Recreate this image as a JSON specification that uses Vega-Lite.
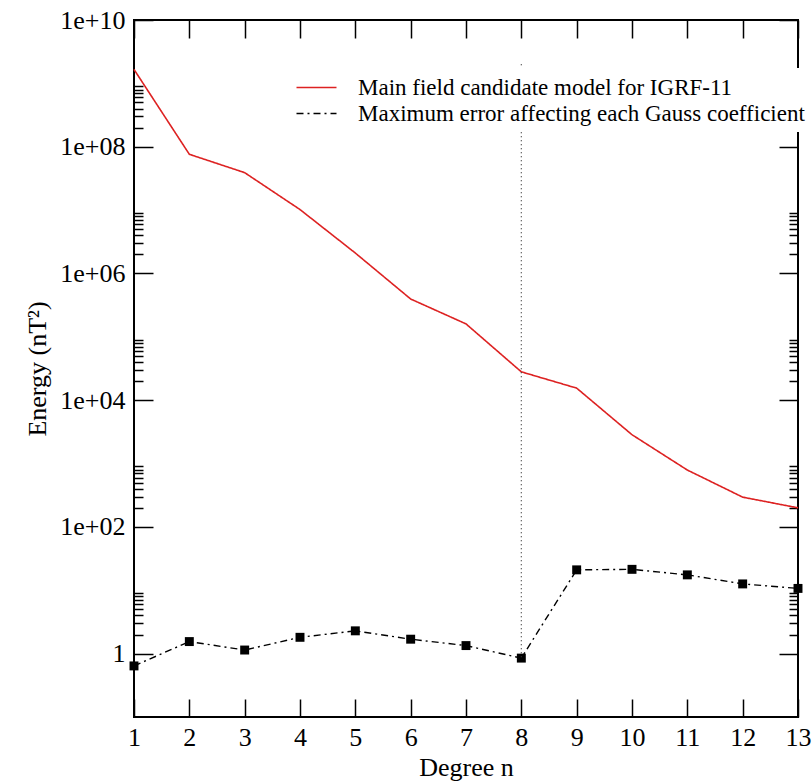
{
  "$schema": "https://vega.github.io/schema/vega-lite/v6.json",
  "width": 664,
  "height": 697,
  "autosize": "none",
  "padding": {"left": 134, "top": 20, "right": 14, "bottom": 65},
  "background": "white",
  "config": {
    "view": {"stroke": "black", "strokeWidth": 2},
    "font": "Liberation Serif",
    "axis": {
      "grid": false,
      "domain": false,
      "labelFont": "Liberation Serif",
      "titleFont": "Liberation Serif",
      "labelFontSize": 26,
      "titleFontSize": 26,
      "labelColor": "black",
      "titleColor": "black",
      "titleFontWeight": "normal",
      "tickColor": "black",
      "tickWidth": 1.5
    },
    "legend": {
      "labelFont": "Liberation Serif",
      "labelFontSize": 23,
      "labelColor": "black",
      "labelLimit": 0
    }
  },
  "datasets": {
    "energy": [
      {"n": 1, "energy": 1660000000, "series": "Main field candidate model for IGRF-11"},
      {"n": 2, "energy": 76000000, "series": "Main field candidate model for IGRF-11"},
      {"n": 3, "energy": 39000000, "series": "Main field candidate model for IGRF-11"},
      {"n": 4, "energy": 10200000, "series": "Main field candidate model for IGRF-11"},
      {"n": 5, "energy": 2100000, "series": "Main field candidate model for IGRF-11"},
      {"n": 6, "energy": 395000, "series": "Main field candidate model for IGRF-11"},
      {"n": 7, "energy": 160000, "series": "Main field candidate model for IGRF-11"},
      {"n": 8, "energy": 28000, "series": "Main field candidate model for IGRF-11"},
      {"n": 9, "energy": 15500, "series": "Main field candidate model for IGRF-11"},
      {"n": 10, "energy": 2850, "series": "Main field candidate model for IGRF-11"},
      {"n": 11, "energy": 790, "series": "Main field candidate model for IGRF-11"},
      {"n": 12, "energy": 295, "series": "Main field candidate model for IGRF-11"},
      {"n": 13, "energy": 200, "series": "Main field candidate model for IGRF-11"},
      {"n": 1, "energy": 0.64, "series": "Maximum error affecting each Gauss coefficient"},
      {"n": 2, "energy": 1.55, "series": "Maximum error affecting each Gauss coefficient"},
      {"n": 3, "energy": 1.14, "series": "Maximum error affecting each Gauss coefficient"},
      {"n": 4, "energy": 1.81, "series": "Maximum error affecting each Gauss coefficient"},
      {"n": 5, "energy": 2.29, "series": "Maximum error affecting each Gauss coefficient"},
      {"n": 6, "energy": 1.69, "series": "Maximum error affecting each Gauss coefficient"},
      {"n": 7, "energy": 1.34, "series": "Maximum error affecting each Gauss coefficient"},
      {"n": 8, "energy": 0.85, "series": "Maximum error affecting each Gauss coefficient"},
      {"n": 9, "energy": 21, "series": "Maximum error affecting each Gauss coefficient"},
      {"n": 10, "energy": 21.4, "series": "Maximum error affecting each Gauss coefficient"},
      {"n": 11, "energy": 17.5, "series": "Maximum error affecting each Gauss coefficient"},
      {"n": 12, "energy": 12.6, "series": "Maximum error affecting each Gauss coefficient"},
      {"n": 13, "energy": 10.7, "series": "Maximum error affecting each Gauss coefficient"}
    ],
    "marker": [
      {"n": 8, "top": 2000000000, "bottom": 0.85}
    ]
  },
  "layer": [
    {
      "data": {"name": "energy"},
      "transform": [{"filter": "datum.series == 'Main field candidate model for IGRF-11'"}],
      "mark": {"type": "line", "strokeWidth": 1.6},
      "encoding": {
        "x": {
          "field": "n", "type": "quantitative",
          "scale": {"domain": [1, 13], "nice": false, "zero": false},
          "axis": {
            "orient": "bottom",
            "values": [1,2,3,4,5,6,7,8,9,10,11,12,13],
            "tickSize": -18,
            "labelPadding": 25,
            "title": "Degree n",
            "titlePadding": 4,
            "labelFlush": false
          }
        },
        "y": {
          "field": "energy", "type": "quantitative",
          "scale": {"type": "log", "domain": [0.1, 10000000000], "nice": false},
          "axis": {
            "orient": "left",
            "values": [1, 100, 10000, 1000000, 100000000, 10000000000],
            "tickSize": -19,
            "labelPadding": 28,
            "labelExpr": "datum.value == 1 ? '1' : '1e+' + format(round(log(datum.value)/LN10), '02d')",
            "title": "Energy (nT²)",
            "titlePadding": 9,
            "labelFlush": false
          }
        },
        "color": {
          "field": "series", "type": "nominal",
          "scale": {
            "domain": ["Main field candidate model for IGRF-11", "Maximum error affecting each Gauss coefficient"],
            "range": ["#dd2222", "black"]
          },
          "legend": {
            "title": null,
            "orient": "none",
            "legendX": 163,
            "legendY": 48,
            "fillColor": "white",
            "padding": 6,
            "symbolType": "M-1.6,0H1.6",
            "symbolSize": 625,
            "symbolStrokeWidth": 1.6,
            "labelOffset": 28,
            "rowPadding": 0
          }
        },
        "strokeDash": {
          "field": "series", "type": "nominal",
          "scale": {
            "domain": ["Main field candidate model for IGRF-11", "Maximum error affecting each Gauss coefficient"],
            "range": [[1, 0], [7, 4, 2, 4]]
          },
          "legend": null
        }
      }
    },
    {
      "data": {"name": "energy"},
      "transform": [{"filter": "datum.series == 'Maximum error affecting each Gauss coefficient'"}],
      "mark": {"type": "line", "strokeWidth": 1.4},
      "encoding": {
        "x": {
          "field": "n", "type": "quantitative",
          "axis": {
            "orient": "top",
            "values": [1,2,3,4,5,6,7,8,9,10,11,12,13],
            "tickSize": -18,
            "labels": false,
            "title": null
          }
        },
        "y": {
          "field": "energy", "type": "quantitative",
          "axis": {
            "orient": "right",
            "values": [1, 100, 10000, 1000000, 100000000, 10000000000],
            "tickSize": -19,
            "labels": false,
            "title": null
          }
        },
        "color": {"field": "series", "type": "nominal"},
        "strokeDash": {"field": "series", "type": "nominal", "legend": null}
      }
    },
    {
      "data": {"name": "energy"},
      "transform": [{"filter": "datum.series == 'Maximum error affecting each Gauss coefficient'"}],
      "mark": {"type": "point", "shape": "square", "filled": true, "size": 80, "opacity": 1, "color": "black"},
      "encoding": {
        "x": {"field": "n", "type": "quantitative", "axis": null},
        "y": {
          "field": "energy", "type": "quantitative",
          "axis": {
            "orient": "left",
            "values": [2,3,4,5,6,7,8,9,200,300,400,500,600,700,800,900,20000,30000,40000,50000,60000,70000,80000,90000,2000000,3000000,4000000,5000000,6000000,7000000,8000000,9000000,200000000,300000000,400000000,500000000,600000000,700000000,800000000,900000000],
            "tickSize": -9,
            "labels": false,
            "title": null
          }
        }
      }
    },
    {
      "data": {"name": "marker"},
      "mark": {"type": "rule", "strokeDash": [1, 3], "strokeWidth": 1.2, "color": "#333333"},
      "encoding": {
        "x": {"field": "n", "type": "quantitative", "axis": null},
        "y": {
          "field": "top", "type": "quantitative",
          "axis": {
            "orient": "right",
            "values": [2,3,4,5,6,7,8,9,200,300,400,500,600,700,800,900,20000,30000,40000,50000,60000,70000,80000,90000,2000000,3000000,4000000,5000000,6000000,7000000,8000000,9000000,200000000,300000000,400000000,500000000,600000000,700000000,800000000,900000000],
            "tickSize": -9,
            "labels": false,
            "title": null
          }
        },
        "y2": {"field": "bottom"}
      }
    }
  ],
  "resolve": {"axis": {"x": "independent", "y": "independent"}}
}
